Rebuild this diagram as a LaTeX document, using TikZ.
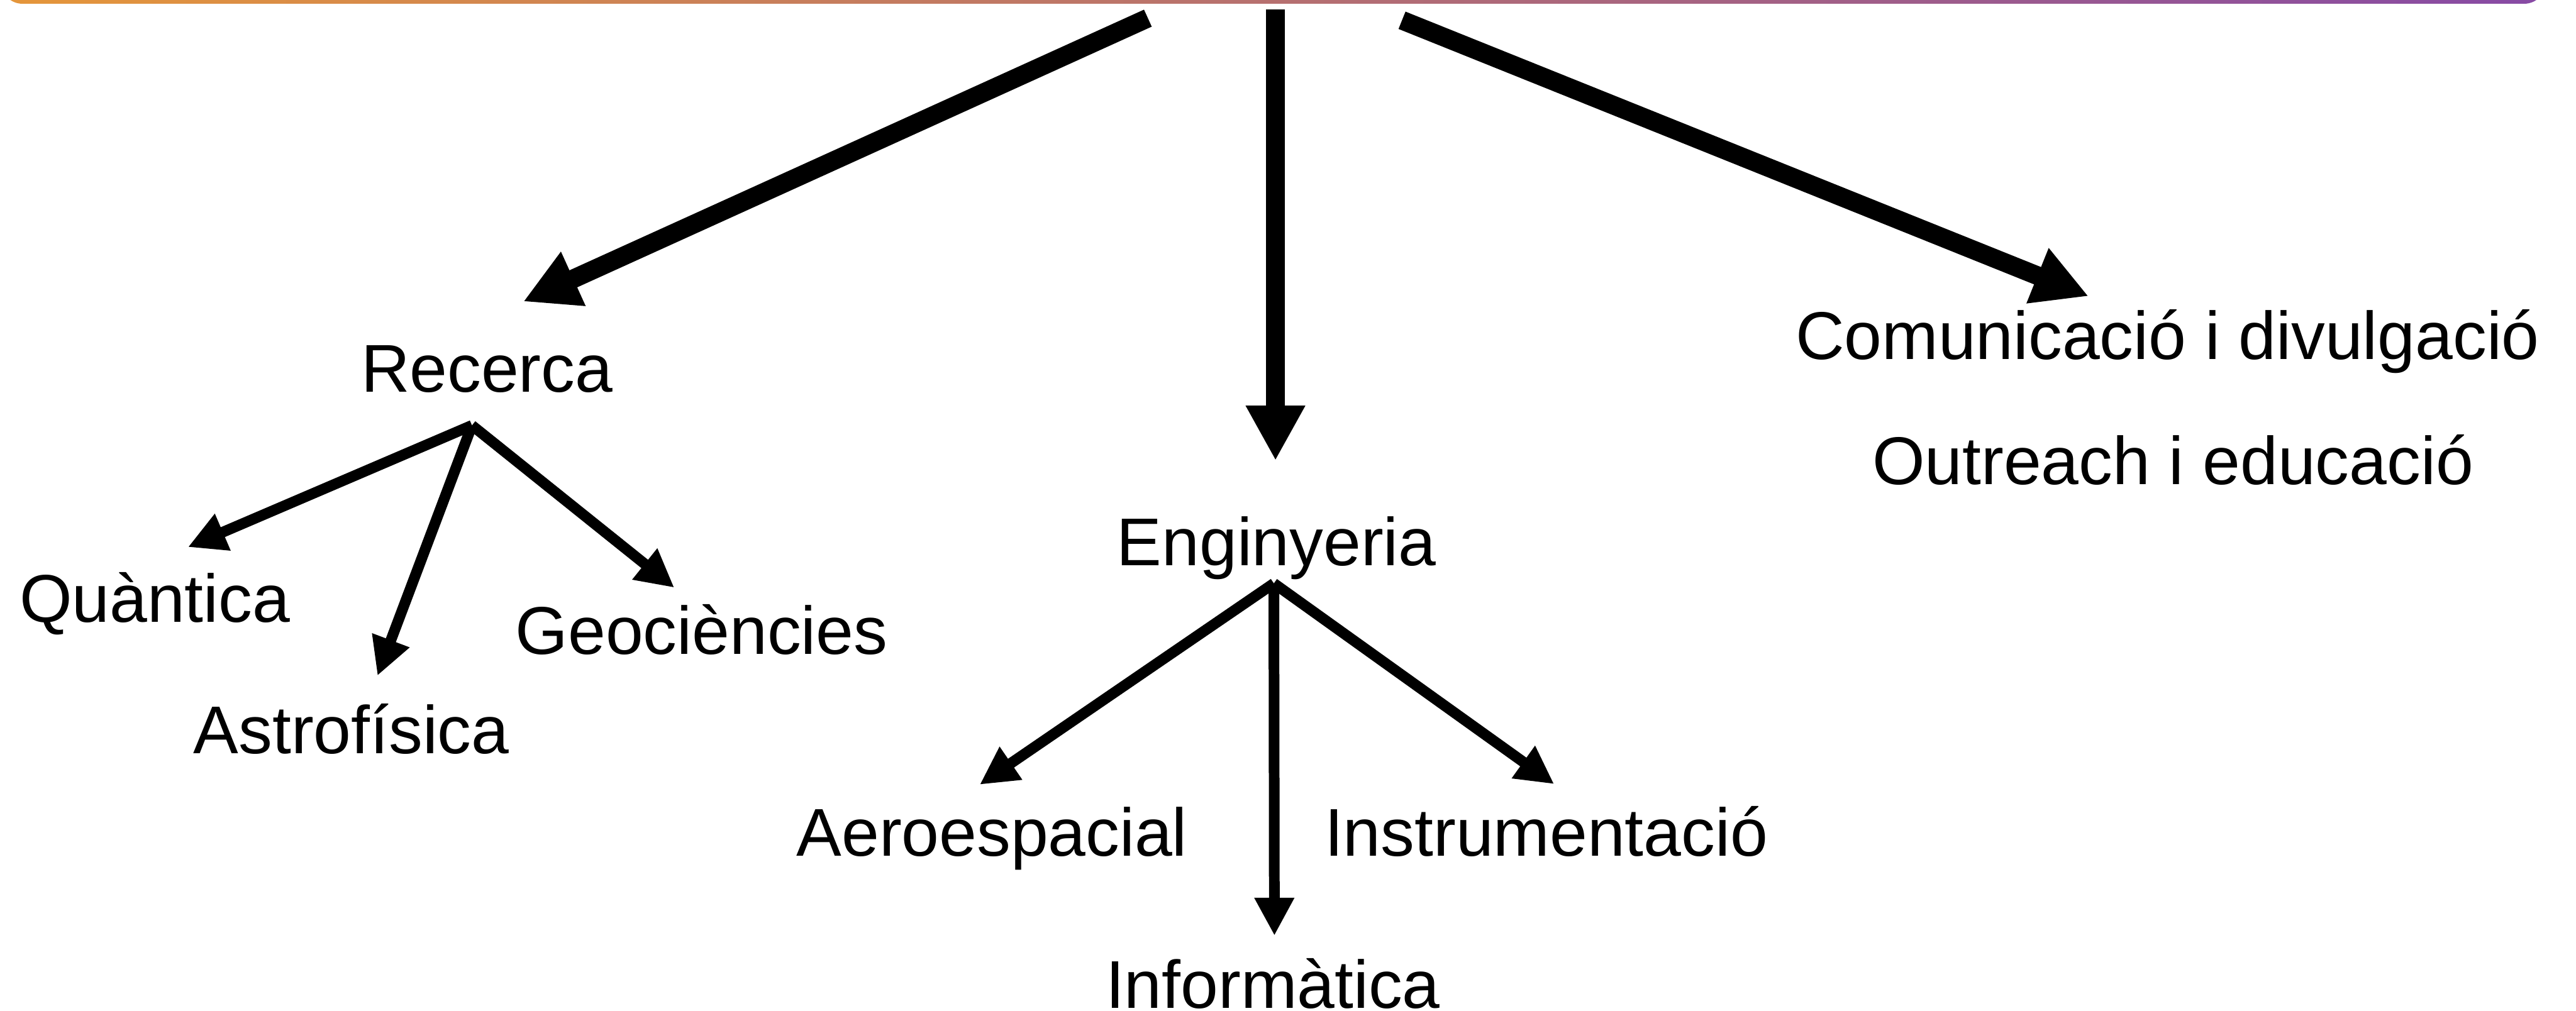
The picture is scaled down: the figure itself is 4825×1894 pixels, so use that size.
\documentclass[tikz,border=0pt]{standalone}
\usepackage{fontspec}
\setmainfont{Liberation Sans}
\usetikzlibrary{arrows.meta}
\definecolor{barorange}{RGB}{229,150,58}
\definecolor{barpurple}{RGB}{135,74,165}

\begin{document}
\begin{tikzpicture}[
    x=0.01cm, y=-0.01cm,
    area/.style={anchor=base, inner sep=0pt, font=\fontsize{36}{43}\selectfont},
    bigarr/.style={draw, line width=3.5mm, -{Triangle[length=10.3mm,width=10.4mm]}},
    subarr/.style={draw, line width=2mm, -{Triangle[length=7.1mm,width=7mm]}}
]
\clip (0,0) rectangle (4825,1894);
% gradient bar at the top
\shade[left color=barorange, right color=barpurple, rounded corners=4mm] (2,-200) rectangle (4768,7);

% main areas
\node[area] (rec) at (912,734) {Recerca};
\node[area] (eng) at (2391,1060) {Enginyeria};
\node[area] (com) at (4060,673) {Comunicació i divulgació};
\node[area] (out) at (4070,908) {Outreach i educació};

% sub areas
\node[area] (qua) at (290,1166) {Quàntica};
\node[area] (ast) at (658,1412) {Astrofísica};
\node[area] (geo) at (1314,1226) {Geociències};
\node[area] (aer) at (1858,1604) {Aeroespacial};
\node[area] (ins) at (2896,1604) {Instrumentació};
\node[area] (inf) at (2384,1889) {Informàtica};

% arrow ends
\coordinate (recin) at (2150,34);
\coordinate (engin) at (2389,18);
\coordinate (comin) at (2626,38);
\coordinate (rectip) at (980,565);
\coordinate (engtip) at (2389,863);
\coordinate (comtip) at (3912,555);
\coordinate (recfork) at (884,797);
\coordinate (engfork) at (2386,1093);
\coordinate (quatip) at (352,1025);
\coordinate (asttip) at (707,1266);
\coordinate (geotip) at (1263,1101);
\coordinate (aertip) at (1835,1470);
\coordinate (instip) at (2911,1469);
\coordinate (inftip) at (2387,1753);

\draw[bigarr] (recin) -- (rectip);
\draw[bigarr] (engin) -- (engtip);
\draw[bigarr] (comin) -- (comtip);

\draw[subarr] (recfork) -- (quatip);
\draw[subarr] (recfork) -- (asttip);
\draw[subarr] (recfork) -- (geotip);
\draw[subarr] (engfork) -- (aertip);
\draw[subarr] (engfork) -- (inftip);
\draw[subarr] (engfork) -- (instip);
\end{tikzpicture}
\end{document}
